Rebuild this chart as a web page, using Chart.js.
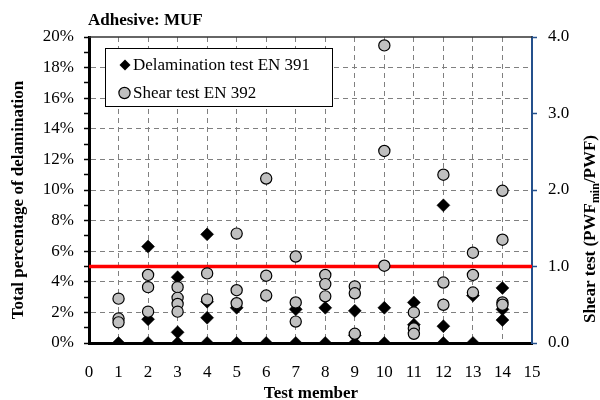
<!DOCTYPE html>
<html>
<head>
<meta charset="utf-8">
<script src="https://cdn.jsdelivr.net/npm/chart.js@4/dist/chart.umd.min.js"></script>
<style>
  html, body { margin: 0; padding: 0; background: #ffffff; }
</style>
</head>
<body>
<canvas id="chart" width="600" height="400"></canvas>
<script>
// Text
const chartTitle = 'Adhesive: MUF';
const xAxisTitle = 'Test member';
const leftAxisTitle = 'Total percentage of delamination';
const seriesNames = ['Delamination test EN 391', 'Shear test EN 392'];

// Delamination test EN 391: test member and total delamination (%)
const delamMember  = [1, 2, 2, 2, 3, 3, 3, 4, 4, 4, 4, 5, 5, 6, 7, 7, 8, 8, 9, 9, 9, 10, 10, 11, 11, 12, 12, 12, 13, 13, 14, 14, 14];
const delamPercent = [0, 6.3, 1.55, 0, 4.3, 0.7, 0, 7.1, 2.7, 1.65, 0, 2.3, 0, 0, 2.2, 0, 2.3, 0, 2.1, 0.5, 0, 2.3, 0, 2.65, 1.2, 9.0, 1.1, 0, 3.1, 0, 3.6, 2.2, 1.5];

// Shear test EN 392: test member and PWFmin/PWF ratio
const shearMember = [1, 1, 1, 2, 2, 2, 3, 3, 3, 3, 4, 4, 5, 5, 5, 6, 6, 6, 7, 7, 7, 8, 8, 8, 9, 9, 9, 10, 10, 10, 11, 11, 11, 12, 12, 12, 13, 13, 13, 14, 14, 14, 14];
const shearRatio  = [0.58, 0.32, 0.27, 0.89, 0.73, 0.41, 0.73, 0.59, 0.51, 0.41, 0.91, 0.57, 1.43, 0.69, 0.52, 2.15, 0.88, 0.62, 1.13, 0.53, 0.28, 0.89, 0.77, 0.61, 0.74, 0.65, 0.12, 3.89, 2.51, 1.01, 0.40, 0.19, 0.12, 2.20, 0.79, 0.50, 1.18, 0.89, 0.66, 1.99, 1.35, 0.53, 0.50];

// Requirement limit: 5 % delamination (= ratio 1.0 on the right axis)
const delamLimit = 5;

// Axis ranges
const xRange = [0, 15];
const leftRange = [0, 20];
const rightRange = [0, 4];

const SERIF = '"Liberation Serif", "Times New Roman", serif';
const NAVY = '#24508C';
const GRID = '#808080';

const toPoints = (xs, ys) => xs.map((x, i) => ({ x, y: ys[i] }));

// Titles, legend box and frame drawn on top of the chart
const decorations = {
  id: 'decorations',
  afterDraw(chart) {
    const ctx = chart.ctx;
    const area = chart.chartArea;
    ctx.save();

    // top frame line
    ctx.strokeStyle = '#333333';
    ctx.lineWidth = 1.5;
    ctx.beginPath();
    ctx.moveTo(area.left, area.top);
    ctx.lineTo(area.right, area.top);
    ctx.stroke();

    ctx.fillStyle = '#000';
    ctx.font = 'bold 17px ' + SERIF;
    ctx.textAlign = 'left';
    ctx.textBaseline = 'alphabetic';
    ctx.fillText(chartTitle, 88, 25);

    ctx.textAlign = 'center';
    ctx.fillText(xAxisTitle, (area.left + area.right) / 2 + 0.5, 398);

    // left axis title
    ctx.save();
    ctx.translate(19, 200);
    ctx.rotate(-Math.PI / 2);
    ctx.textBaseline = 'middle';
    ctx.fillText(leftAxisTitle, 0, 0);
    ctx.restore();

    // right axis title with subscript
    ctx.save();
    ctx.translate(591, 229);
    ctx.rotate(-Math.PI / 2);
    ctx.textBaseline = 'middle';
    ctx.textAlign = 'left';
    const mainFont = 'bold 17px ' + SERIF;
    const subFont = 'bold 12px ' + SERIF;
    const parts = [['Shear test (PWF', mainFont, 0], ['min', subFont, 5], ['/PWF)', mainFont, 0]];
    let total = 0;
    parts.forEach(p => { ctx.font = p[1]; total += ctx.measureText(p[0]).width; });
    let px = -total / 2;
    parts.forEach(p => {
      ctx.font = p[1];
      ctx.fillText(p[0], px, p[2]);
      px += ctx.measureText(p[0]).width;
    });
    ctx.restore();

    // legend
    const lx = 105, ly = 48, lw = 227, lh = 58;
    ctx.fillStyle = '#ffffff';
    ctx.fillRect(lx, ly, lw, lh);
    ctx.strokeStyle = '#000';
    ctx.lineWidth = 1;
    ctx.strokeRect(lx + 0.5, ly + 0.5, lw, lh);

    // diamond marker
    ctx.fillStyle = '#000';
    ctx.beginPath();
    ctx.moveTo(125, 59.5);
    ctx.lineTo(130.5, 65);
    ctx.lineTo(125, 70.5);
    ctx.lineTo(119.5, 65);
    ctx.closePath();
    ctx.fill();

    // circle marker
    ctx.fillStyle = '#C0C0C0';
    ctx.beginPath();
    ctx.arc(124.5, 93, 5.6, 0, Math.PI * 2);
    ctx.fill();
    ctx.lineWidth = 1.2;
    ctx.stroke();

    ctx.fillStyle = '#000';
    ctx.font = '17px ' + SERIF;
    ctx.textAlign = 'left';
    ctx.textBaseline = 'middle';
    ctx.fillText(seriesNames[0], 133, 66);
    ctx.fillText(seriesNames[1], 133, 94);

    ctx.restore();
  }
};

new Chart(document.getElementById('chart'), {
  type: 'scatter',
  data: {
    datasets: [
      {
        label: seriesNames[1],
        data: toPoints(shearMember, shearRatio),
        yAxisID: 'y2',
        pointStyle: 'circle',
        pointRadius: 5.6,
        pointBackgroundColor: '#C0C0C0',
        pointBorderColor: '#000000',
        pointBorderWidth: 1.2,
        order: 0
      },
      {
        label: 'limit',
        type: 'line',
        data: toPoints(xRange, [delamLimit, delamLimit]),
        yAxisID: 'y',
        borderColor: '#FF0000',
        borderWidth: 3.5,
        pointRadius: 0,
        fill: false,
        order: 1
      },
      {
        label: seriesNames[0],
        data: toPoints(delamMember, delamPercent),
        yAxisID: 'y',
        pointStyle: 'rectRot',
        pointRadius: 6.5,
        pointBackgroundColor: '#000000',
        pointBorderColor: '#000000',
        pointBorderWidth: 0.5,
        order: 2
      }
    ]
  },
  options: {
    responsive: false,
    devicePixelRatio: 1,
    animation: false,
    layout: { padding: { top: 37, left: 0, right: 0, bottom: 0 } },
    plugins: {
      legend: { display: false },
      tooltip: { enabled: false },
      title: { display: false }
    },
    scales: {
      x: {
        type: 'linear',
        position: 'bottom',
        min: xRange[0],
        max: xRange[1],
        afterFit: s => { s.height = 57; },
        ticks: {
          stepSize: 1,
          autoSkip: false,
          maxRotation: 0,
          padding: 19,
          color: '#000',
          font: { family: SERIF, size: 17 }
        },
        grid: {
          drawTicks: false,
          color: c => (c.tick && (c.tick.value === xRange[0] || c.tick.value === xRange[1])) ? 'rgba(0,0,0,0)' : GRID,
          lineWidth: 1
        },
        border: { display: true, color: '#000', width: 3, dash: [5, 4] }
      },
      y: {
        type: 'linear',
        position: 'left',
        min: leftRange[0],
        max: leftRange[1],
        afterFit: s => { s.width = 89; },
        ticks: {
          stepSize: 1,
          autoSkip: false,
          padding: 10,
          color: '#000',
          font: { family: SERIF, size: 17 },
          callback: v => (v % 2 === 0 ? v + '%' : '')
        },
        grid: {
          drawTicks: true,
          tickLength: 5,
          tickColor: '#000',
          tickWidth: 1.5,
          color: c => {
            const v = c.tick ? c.tick.value : 0;
            return (v % 2 === 0 && v !== leftRange[0] && v !== leftRange[1]) ? GRID : 'rgba(0,0,0,0)';
          },
          lineWidth: 1
        },
        border: { display: true, color: '#000', width: 3, dash: [5, 4] }
      },
      y2: {
        type: 'linear',
        position: 'right',
        min: rightRange[0],
        max: rightRange[1],
        afterFit: s => { s.width = 68; },
        ticks: {
          stepSize: 1,
          autoSkip: false,
          padding: 11,
          color: '#000',
          font: { family: SERIF, size: 17 },
          callback: v => v.toFixed(1)
        },
        grid: {
          drawOnChartArea: false,
          drawTicks: true,
          tickLength: 5,
          tickColor: NAVY,
          tickWidth: 1.5
        },
        border: { display: true, color: NAVY, width: 2 }
      }
    }
  },
  plugins: [decorations]
});
</script>
</body>
</html>
